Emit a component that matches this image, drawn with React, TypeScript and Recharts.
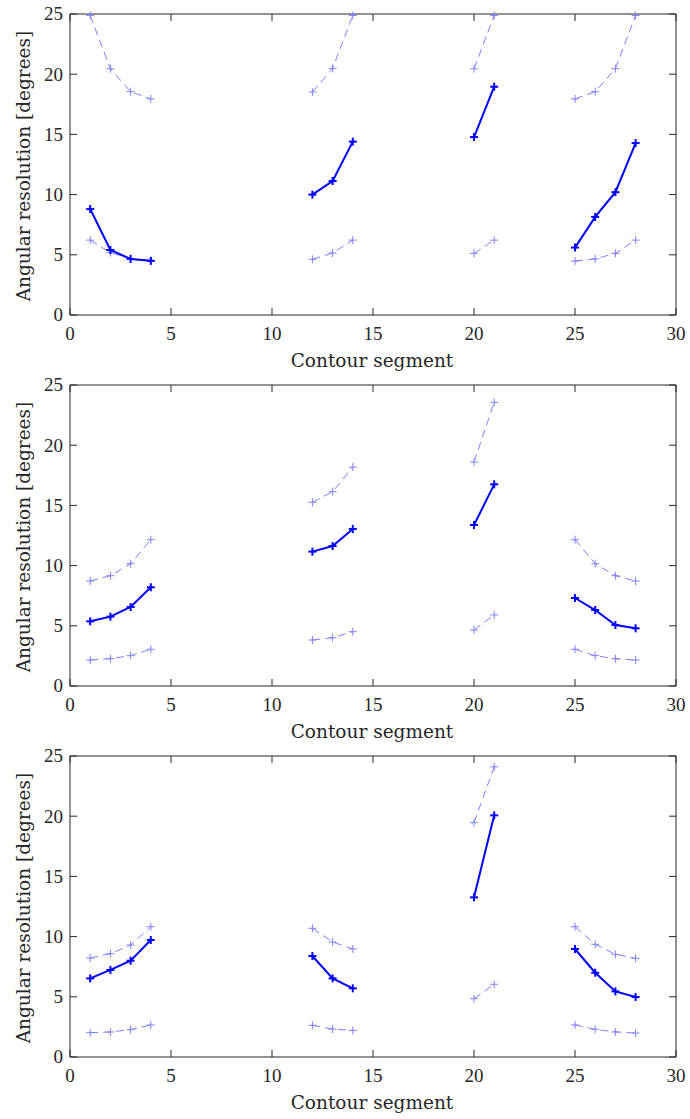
// Three stacked panels: angular resolution per contour segment (mean + bounds)
import { LineChart, Line, XAxis, YAxis, ReferenceLine, Label } from "recharts";

const SEGMENTS = [1, 2, 3, 4, 12, 13, 14, 20, 21, 25, 26, 27, 28];
const X_TICKS = [0, 5, 10, 15, 20, 25, 30];
const Y_TICKS = [0, 5, 10, 15, 20, 25];

// Panel 1
const A_MEAN = [8.8, 5.4, 4.65, 4.5, 10.0, 11.13, 14.4, 14.78, 18.96, 5.6, 8.15, 10.2, 14.28];
const A_UPPER = [24.88, 20.45, 18.55, 17.95, 18.52, 20.48, 24.88, 20.45, 24.88, 17.95, 18.55, 20.46, 24.88];
const A_LOWER = [6.22, 5.18, 4.7, 4.5, 4.63, 5.15, 6.22, 5.12, 6.22, 4.48, 4.66, 5.12, 6.22];

// Panel 2
const B_MEAN = [5.37, 5.76, 6.56, 8.2, 11.16, 11.63, 13.04, 13.37, 16.75, 7.31, 6.31, 5.07, 4.79];
const B_UPPER = [8.72, 9.16, 10.16, 12.15, 15.26, 16.14, 18.19, 18.6, 23.56, 12.15, 10.16, 9.16, 8.72];
const B_LOWER = [2.16, 2.27, 2.52, 3.05, 3.82, 4.01, 4.51, 4.65, 5.9, 3.05, 2.52, 2.27, 2.16];

// Panel 3
const C_MEAN = [6.53, 7.23, 8.0, 9.72, 8.39, 6.53, 5.7, 13.26, 20.07, 8.97, 7.0, 5.45, 4.98];
const C_UPPER = [8.22, 8.58, 9.3, 10.82, 10.69, 9.55, 8.97, 19.46, 24.1, 10.82, 9.36, 8.53, 8.2];
const C_LOWER = [2.02, 2.08, 2.27, 2.66, 2.63, 2.32, 2.21, 4.84, 6.04, 2.66, 2.3, 2.08, 1.99];

const PANELS = [
  { mean: A_MEAN, upper: A_UPPER, lower: A_LOWER },
  { mean: B_MEAN, upper: B_UPPER, lower: B_LOWER },
  { mean: C_MEAN, upper: C_UPPER, lower: C_LOWER },
];

const W = 690;
const H = 371;
const PLOT_W = 606;
const PLOT_H = 301;
const AXIS = "#262626";
const SOLID = "#0000ff";
const LIGHT = "#8080ff";
const TICK_FONT = "'Liberation Serif', serif";
const LABEL_FONT = "'DejaVu Serif', serif";

// rows with a null row between non-adjacent segments so the lines break
function buildRows(mean: number[], upper: number[], lower: number[]) {
  const rows: Array<{ x: number; mean: number | null; upper: number | null; lower: number | null }> = [];
  SEGMENTS.forEach((s, i) => {
    if (i > 0 && s - SEGMENTS[i - 1] > 1) {
      rows.push({ x: (s + SEGMENTS[i - 1]) / 2, mean: null, upper: null, lower: null });
    }
    rows.push({ x: s, mean: mean[i], upper: upper[i], lower: lower[i] });
  });
  return rows;
}

function plusDot(color: string, sw: number, r: number) {
  return (props: any) => {
    const { cx, cy, index } = props;
    if (cx == null || cy == null || props.value == null) return <g key={`d-${index}`} />;
    return (
      <g key={`d-${index}`}>
        <line x1={cx - r} x2={cx + r} y1={cy} y2={cy} stroke={color} strokeWidth={sw} />
        <line x1={cx} x2={cx} y1={cy - r} y2={cy + r} stroke={color} strokeWidth={sw} />
      </g>
    );
  };
}

function XTick({ x, y, payload }: any) {
  return (
    <g>
      <line x1={x} x2={x} y1={y} y2={y - 7} stroke={AXIS} />
      <line x1={x} x2={x} y1={y - PLOT_H} y2={y - PLOT_H + 7} stroke={AXIS} />
      <text x={x} y={y + 25} textAnchor="middle" fontFamily={TICK_FONT} fontSize={19} fill={AXIS}>
        {payload.value}
      </text>
    </g>
  );
}

function YTick({ x, y, payload }: any) {
  return (
    <g>
      <line x1={x} x2={x + 7} y1={y} y2={y} stroke={AXIS} />
      <line x1={x + PLOT_W} x2={x + PLOT_W - 7} y1={y} y2={y} stroke={AXIS} />
      <text x={x - 7} y={y} dy="0.34em" textAnchor="end" fontFamily={TICK_FONT} fontSize={19} fill={AXIS}>
        {payload.value}
      </text>
    </g>
  );
}

function Panel({ mean, upper, lower }: { mean: number[]; upper: number[]; lower: number[] }) {
  const data = buildRows(mean, upper, lower);
  return (
    <LineChart width={W} height={H} data={data} margin={{ top: 14, right: 14, bottom: 0, left: 0 }}>
      <XAxis
        dataKey="x"
        type="number"
        domain={[0, 30]}
        ticks={X_TICKS}
        height={56}
        tickSize={0}
        tickMargin={0}
        tickLine={false}
        axisLine={{ stroke: AXIS }}
        tick={<XTick />}
        interval={0}
      >
        <Label
          content={() => (
            <text x={372} y={367} textAnchor="middle" fontFamily={LABEL_FONT} fontSize={18.5} fill={AXIS}>
              Contour segment
            </text>
          )}
        />
      </XAxis>
      <YAxis
        type="number"
        domain={[0, 25]}
        ticks={Y_TICKS}
        width={70}
        tickSize={0}
        tickMargin={0}
        tickLine={false}
        axisLine={{ stroke: AXIS }}
        tick={<YTick />}
        interval={0}
      >
        <Label
          content={() => (
            <text
              x={30}
              y={166}
              transform="rotate(-90 30 166)"
              textAnchor="middle"
              fontFamily={LABEL_FONT}
              fontSize={18.5}
              fill={AXIS}
            >
              Angular resolution [degrees]
            </text>
          )}
        />
      </YAxis>
      <ReferenceLine y={25} stroke={AXIS} />
      <ReferenceLine x={30} stroke={AXIS} />
      <Line
        dataKey="upper"
        stroke={LIGHT}
        strokeWidth={1}
        strokeDasharray="8 5"
        dot={plusDot(LIGHT, 1, 4)}
        isAnimationActive={false}
      />
      <Line
        dataKey="lower"
        stroke={LIGHT}
        strokeWidth={1}
        strokeDasharray="8 5"
        dot={plusDot(LIGHT, 1, 4)}
        isAnimationActive={false}
      />
      <Line dataKey="mean" stroke={SOLID} strokeWidth={2} dot={plusDot(SOLID, 2, 4)} isAnimationActive={false} />
    </LineChart>
  );
}

export default function App() {
  return (
    <div style={{ position: "absolute", left: 0, top: 0, width: 690, height: 1119, background: "#fff" }}>
      {PANELS.map((p, i) => (
        <Panel key={i} mean={p.mean} upper={p.upper} lower={p.lower} />
      ))}
    </div>
  );
}
